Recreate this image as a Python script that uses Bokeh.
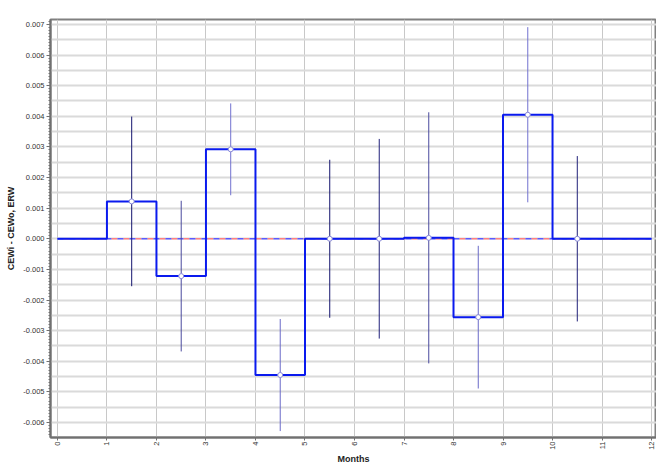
import math
from bokeh.plotting import figure
from bokeh.models import Range1d, SingleIntervalTicker, FixedTicker, PrintfTickFormatter, ColumnDataSource
from bokeh.embed import file_html
from bokeh.resources import INLINE

# Month boundaries and step values
month_edges = [0, 1, 2, 3, 4, 5, 6, 7, 8, 9, 10, 11, 12]
step_values = [0.0, 0.00122, -0.00122, 0.00292, -0.00445, 0.0, 0.0, 0.00003, -0.00256, 0.00405, 0.0, 0.0]

# Error bars (centre at month + 0.5)
err_months = [1.5, 2.5, 3.5, 4.5, 5.5, 6.5, 7.5, 8.5, 9.5, 10.5]
err_means = [0.00122, -0.00122, 0.00292, -0.00445, 0.0, 0.0, 0.00003, -0.00256, 0.00405, 0.0]
err_half = [0.00277, 0.00246, 0.00150, 0.00183, 0.00258, 0.00326, 0.00410, 0.00233, 0.00286, 0.00270]
err_colors = ["#14146e", "#4a4a9e", "#7272d0", "#6a6ac8", "#14146e", "#20207a", "#4a4a9e", "#6a6ac8", "#7272d0", "#20207a"]

y_ticks = [-0.006, -0.005, -0.004, -0.003, -0.002, -0.001, 0.0, 0.001, 0.002, 0.003, 0.004, 0.005, 0.006, 0.007]

p = figure(width=656, height=467, output_backend="svg", toolbar_location=None,
           x_range=Range1d(-0.14, 12.1), y_range=Range1d(-0.00649, 0.00716),
           min_border_left=50, min_border_right=0, min_border_top=19, min_border_bottom=30)

p.background_fill_color = "white"
p.outline_line_color = "#808080"
p.outline_line_width = 2

# grids
p.xgrid.ticker = SingleIntervalTicker(interval=1)
p.xgrid.grid_line_color = "#c8c8c8"
p.xgrid.grid_line_width = 1
p.ygrid.ticker = SingleIntervalTicker(interval=0.0005)
p.ygrid.grid_line_color = "#dadada"
p.ygrid.grid_line_width = 2

# axes
p.xaxis.ticker = SingleIntervalTicker(interval=1, num_minor_ticks=0)
p.xaxis.major_label_orientation = math.pi / 2
p.xaxis.axis_label = "Months"
p.yaxis.ticker = FixedTicker(ticks=y_ticks, minor_ticks=[i * 0.0001 for i in range(-65, 72)])
p.yaxis.formatter = PrintfTickFormatter(format="%.3f")
p.yaxis.axis_label = "CEWi - CEWo, ERW"
for ax in (p.xaxis[0], p.yaxis[0]):
    ax.axis_line_color = "#707070"
    ax.axis_line_width = 2
    ax.major_tick_line_color = "#707070"
    ax.minor_tick_line_color = "#707070"
    ax.major_tick_out = 4
    ax.major_tick_in = 0
    ax.minor_tick_out = 2
    ax.minor_tick_in = 0
    ax.major_label_text_font = "Liberation Sans"
    ax.major_label_text_font_size = "7.5px"
    ax.major_label_text_color = "#333333"
    ax.axis_label_text_font = "Liberation Sans"
    ax.axis_label_text_font_size = "9px"
    ax.axis_label_text_font_style = "bold"
    ax.axis_label_text_color = "#222222"
    ax.axis_label_standoff = 4
    ax.major_label_standoff = 2
p.xaxis.major_tick_out = 3
p.xaxis.major_label_standoff = 1
p.xaxis.axis_label_standoff = 1

# zero reference line (dash-dot, blue and red)
p.line(x=[month_edges[0], month_edges[-1]], y=[0, 0], line_color="#ff8080", line_width=1.5, line_dash="6 6", line_dash_offset=6)
p.line(x=[month_edges[0], month_edges[-1]], y=[0, 0], line_color="#5a5aff", line_width=1.5, line_dash="6 6")

# step line
xs, ys = [], []
for i, v in enumerate(step_values):
    xs += [month_edges[i], month_edges[i + 1]]
    ys += [v, v]
p.line(x=xs, y=ys, line_color="#0a1aee", line_width=2)

# error bars
src = ColumnDataSource(dict(x=err_months,
                            y0=[m - h for m, h in zip(err_means, err_half)],
                            y1=[m + h for m, h in zip(err_means, err_half)],
                            c=err_colors, m=err_means))
p.segment(x0="x", y0="y0", x1="x", y1="y1", line_color="c", line_width=1, source=src)
p.scatter(x="x", y="m", size=5, fill_color="white", line_color="#8a8ad8", line_width=1, source=src)

open("out.html", "w").write(file_html(p, INLINE))
